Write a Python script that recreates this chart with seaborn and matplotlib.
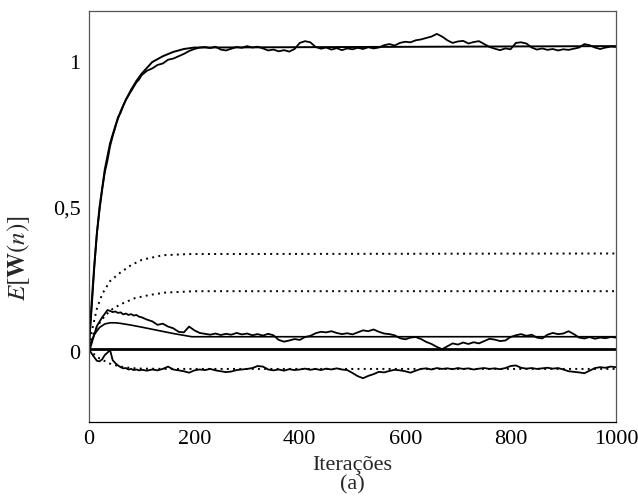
import pandas as pd
import matplotlib
matplotlib.use("Agg")
import matplotlib.pyplot as plt
import seaborn as sns

# grade de iterações das curvas simuladas
n_sim = list(range(0, 100, 5)) + list(range(100, 1001, 10))

# curva simulada que vai para ~1,05
w1_sim = [0.02, 0.15, 0.29, 0.41, 0.49, 0.56, 0.62, 0.66, 0.71, 0.745,
          0.775, 0.81, 0.825, 0.85, 0.87, 0.885, 0.90, 0.915, 0.93, 0.94,
          0.955, 0.97, 0.978, 0.99, 0.995, 1.008, 1.012, 1.02, 1.028, 1.038, 1.045,
          1.05, 1.052, 1.048, 1.053, 1.043, 1.040, 1.046, 1.052, 1.049, 1.055,
          1.05, 1.053, 1.047, 1.040, 1.043, 1.037, 1.041, 1.036, 1.045, 1.066,
          1.072, 1.068, 1.052, 1.046, 1.05, 1.043, 1.048, 1.041, 1.047, 1.044,
          1.049, 1.045, 1.051, 1.047, 1.05, 1.058, 1.062, 1.057, 1.066, 1.07,
          1.068, 1.075, 1.078, 1.083, 1.088, 1.097, 1.088, 1.075, 1.066, 1.071,
          1.073, 1.064, 1.069, 1.072, 1.062, 1.052, 1.046, 1.041, 1.047, 1.044,
          1.066, 1.068, 1.064, 1.05, 1.043, 1.047, 1.042, 1.045, 1.04, 1.044,
          1.042, 1.046, 1.05, 1.062, 1.058, 1.05, 1.045, 1.05, 1.053, 1.052]

# curva simulada que vai para ~0,05
w2_sim = [0.0, 0.03, 0.06, 0.09, 0.105, 0.12, 0.132, 0.145, 0.142, 0.138,
          0.14, 0.135, 0.137, 0.13, 0.133, 0.128, 0.131, 0.126, 0.128, 0.122,
          0.12, 0.112, 0.106, 0.094, 0.098, 0.088, 0.082, 0.07, 0.068, 0.088, 0.075,
          0.066, 0.063, 0.06, 0.064, 0.059, 0.063, 0.06, 0.066, 0.061, 0.064,
          0.058, 0.062, 0.057, 0.063, 0.058, 0.042, 0.036, 0.04, 0.045, 0.042,
          0.052, 0.056, 0.065, 0.07, 0.068, 0.072, 0.066, 0.062, 0.065, 0.061,
          0.068, 0.075, 0.072, 0.078, 0.07, 0.064, 0.062, 0.058, 0.048, 0.044,
          0.05, 0.052, 0.045, 0.035, 0.028, 0.018, 0.01, 0.02, 0.03, 0.026,
          0.033, 0.028, 0.034, 0.03, 0.038, 0.046, 0.043, 0.038, 0.04, 0.052,
          0.058, 0.062, 0.056, 0.06, 0.05, 0.047, 0.06, 0.066, 0.062, 0.064,
          0.072, 0.062, 0.05, 0.047, 0.052, 0.046, 0.05, 0.048, 0.052, 0.05]

# curva simulada negativa
w3_sim = [0.01, -0.005, -0.018, -0.03, -0.032, -0.025, -0.01, -0.002, 0.007, -0.028,
          -0.038, -0.046, -0.052, -0.056, -0.055, -0.06, -0.058, -0.062, -0.06, -0.063,
          -0.061, -0.064, -0.06, -0.063, -0.058, -0.05, -0.06, -0.063, -0.066, -0.071, -0.063,
          -0.06, -0.062, -0.058, -0.063, -0.066, -0.069, -0.067, -0.062, -0.06, -0.058,
          -0.055, -0.048, -0.05, -0.06, -0.063, -0.06, -0.064, -0.059, -0.062, -0.06,
          -0.057, -0.061, -0.058, -0.062, -0.057, -0.06, -0.056, -0.06, -0.062, -0.072,
          -0.083, -0.09, -0.082, -0.076, -0.068, -0.07, -0.065, -0.061, -0.063, -0.066,
          -0.071, -0.064, -0.058, -0.056, -0.06, -0.055, -0.058, -0.056, -0.059, -0.055,
          -0.058, -0.056, -0.06, -0.057, -0.055, -0.058, -0.056, -0.059, -0.055, -0.048,
          -0.046, -0.054, -0.057, -0.055, -0.058, -0.056, -0.054, -0.057, -0.055, -0.06,
          -0.066, -0.068, -0.07, -0.073, -0.064, -0.055, -0.052, -0.054, -0.05, -0.052]

# curvas teóricas (contínuas)
n_t1 = [0, 5, 10, 15, 20, 30, 40, 50, 60, 70, 80, 90, 100, 120, 140, 160, 180, 200, 1000]
w1_t = [0.03, 0.17, 0.3, 0.41, 0.5, 0.63, 0.72, 0.78, 0.83, 0.87, 0.905, 0.935, 0.96,
        1.0, 1.02, 1.035, 1.045, 1.05, 1.055]
n_t2 = [0, 10, 20, 30, 40, 50, 60, 80, 100, 130, 160, 195, 1000]
w2_t = [0.02, 0.06, 0.085, 0.097, 0.101, 0.101, 0.099, 0.093, 0.086, 0.075, 0.064, 0.053, 0.053]
n_flat = [0, 1000]
w_flat = [0.012, 0.012]

# curvas pontilhadas
n_d1 = [0, 5, 10, 15, 25, 40, 60, 80, 100, 140, 190, 1000]
w_d1 = [0.02, 0.07, 0.11, 0.15, 0.2, 0.245, 0.275, 0.3, 0.318, 0.334, 0.338, 0.34]
n_d2 = [0, 10, 20, 30, 44, 60, 87, 115, 144, 200, 1000]
w_d2 = [0.02, 0.07, 0.1, 0.125, 0.148, 0.165, 0.186, 0.197, 0.205, 0.21, 0.21]
n_d3 = [0, 10, 20, 40, 60, 80, 100, 150, 200, 1000]
w_d3 = [0.01, -0.008, -0.022, -0.04, -0.05, -0.055, -0.057, -0.058, -0.058, -0.058]

sns.set_style("white")
plt.rcParams['font.family'] = ['Liberation Serif', 'DejaVu Serif']
plt.rcParams['mathtext.fontset'] = 'stix'

fig = plt.figure(figsize=(6.38, 5.0), dpi=100)
ax = fig.add_axes([0.1395, 0.156, 0.826, 0.822])

sim = pd.DataFrame({'n': n_sim, 'w1': w1_sim, 'w2': w2_sim, 'w3': w3_sim})
for col in ['w1', 'w2', 'w3']:
    sns.lineplot(data=sim, x='n', y=col, ax=ax, color='black', lw=1.3)

sns.lineplot(x=n_t1, y=w1_t, ax=ax, color='black', lw=1.4)
sns.lineplot(x=n_t2, y=w2_t, ax=ax, color='black', lw=1.2)
sns.lineplot(x=n_flat, y=w_flat, ax=ax, color='black', lw=2.0)

for xs, ys in [(n_d1, w_d1), (n_d2, w_d2), (n_d3, w_d3)]:
    sns.lineplot(x=xs, y=ys, ax=ax, color='black', lw=1.4, linestyle=(0, (1, 2.2)))

ax.set_xlim(0, 1000)
ax.set_ylim(-0.241, 1.176)
ax.set_xticks([0, 200, 400, 600, 800, 1000])
ax.set_xticklabels(['0', '200', '400', '600', '800', '1000'])
ax.set_yticks([0, 0.5, 1])
ax.set_yticklabels(['0', '0,5', '1'])
ax.tick_params(direction='in', length=6, width=0.8, colors='black', labelsize=16, pad=6)

for s in ax.spines.values():
    s.set_color('#555555')
    s.set_linewidth(0.9)
ax.spines['bottom'].set_color('black')

ax.set_xlabel('Iterações\n(a)', fontsize=16, linespacing=1.0, labelpad=5)
ax.set_ylabel(r'$E[\mathbf{W}(n)]$', fontsize=18)
ax.yaxis.set_label_coords(-0.108, 0.40)

fig.savefig('out.png', dpi=100, facecolor='white')
